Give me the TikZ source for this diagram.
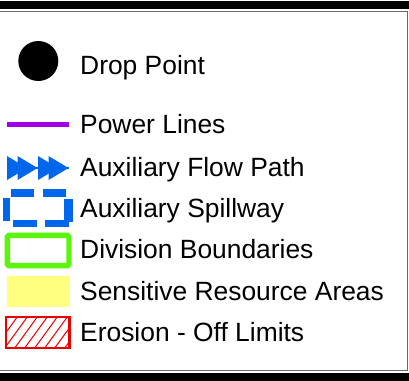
\documentclass[tikz,border=0pt]{standalone}
\usepackage{fontspec}
\setmainfont{Liberation Sans}
\definecolor{framegray}{RGB}{105,105,105}
\definecolor{plum}{RGB}{160,0,230}
\definecolor{flowblue}{RGB}{0,102,235}
\definecolor{lime}{RGB}{90,245,10}
\definecolor{paleyellow}{RGB}{255,255,128}
\definecolor{erored}{RGB}{235,0,0}
\begin{document}
\begin{tikzpicture}[x=1bp,y=-1bp,
  txt/.style={anchor=base west, inner sep=0pt, font=\fontsize{26.4bp}{30bp}\selectfont},
  band/.style={fill=black},
  spilldash/.style={fill=flowblue},
  flowtri/.style={fill=flowblue}]
\useasboundingbox (0,0) rectangle (409,381);
% frame
\fill[band] (0,1.3) rectangle (409,9.4);
\fill[band] (0,372.6) rectangle (409,381);
\draw[framegray, line width=1.3bp] (-5,11.3) -- (407.6,11.3) -- (407.6,370.6) -- (-5,370.6);
% drop point
\fill[black] (38.3,61) circle (20);
% power lines
\draw[plum, line width=5bp] (7,124) -- (69,124);
% auxiliary flow path
\draw[flowblue, line width=2.5bp] (7,168) -- (69,168);
\foreach \b in {7,17.5,38,48.5}{
  \fill[flowtri] (\b,156) -- (\b+20,168) -- (\b,180) -- cycle;
}
% auxiliary spillway
\fill[spilldash] (11,189) rectangle (34.3,197.3);
\fill[spilldash] (42.7,189) rectangle (65.7,197.3);
\fill[spilldash] (2.7,198) rectangle (10,221.3);
\fill[spilldash] (64.3,199) rectangle (72.7,222.3);
\fill[spilldash] (13.3,219.7) rectangle (36.7,227.3);
\fill[spilldash] (45,219.7) rectangle (69,227.3);
% division boundaries
\draw[lime, line width=5.4bp, rounded corners=1.5bp] (7.4,235.4) rectangle (69,265.6);
% sensitive resource areas
\fill[paleyellow] (7.3,276) rectangle (69.7,306.7);
% erosion
\begin{scope}
  \clip (6.2,317.2) rectangle (69.5,348.2);
  \foreach \b in {-26,-16,...,74}{
    \draw[erored, line width=1bp] (\b,349) -- (\b+24,316);
  }
\end{scope}
\draw[erored, line width=2.3bp] (6.2,317.2) rectangle (69.5,348.2);
% labels
\node[txt] (t1) at (80,74.5) {Drop Point};
\node[txt] (t2) at (80,133.3) {Power Lines};
\node[txt] (t3) at (80,176.8) {Auxiliary Flow Path};
\node[txt] (t4) at (80,217.5) {Auxiliary Spillway};
\node[txt] (t5) at (80,258.5) {Division Boundaries};
\node[txt] (t6) at (80,300) {Sensitive Resource Areas};
\node[txt] (t7) at (80,341.8) {Erosion - Off Limits};
\end{tikzpicture}
\end{document}
